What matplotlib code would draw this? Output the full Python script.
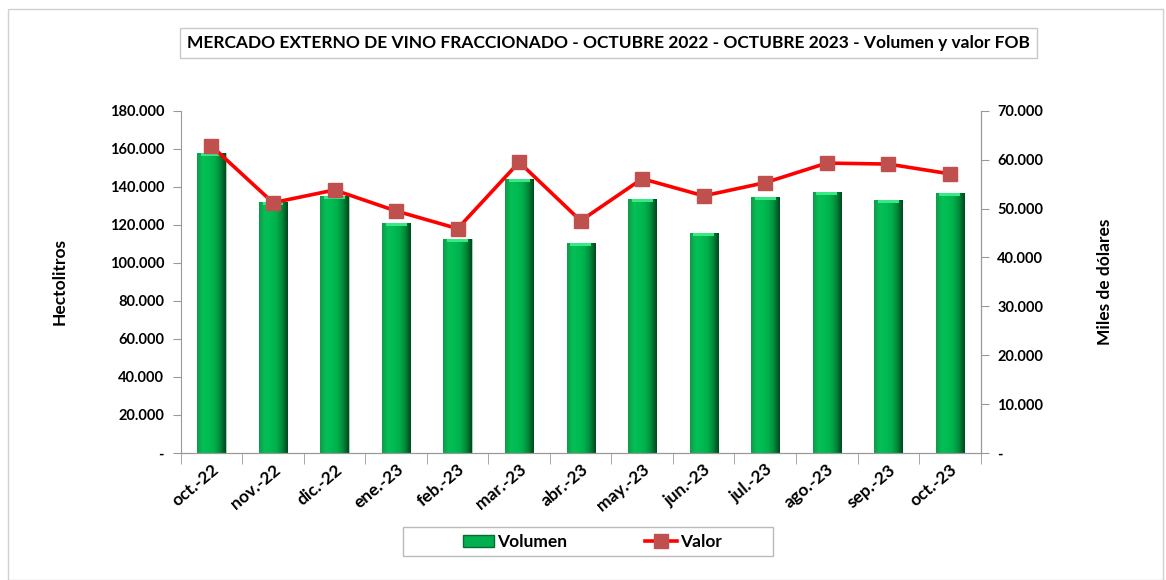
import numpy as np
import matplotlib
matplotlib.use("Agg")
import matplotlib.pyplot as plt
from matplotlib.colors import LinearSegmentedColormap
from matplotlib.patches import Rectangle, Patch
from matplotlib.lines import Line2D
from matplotlib.ticker import FuncFormatter, MultipleLocator

plt.rcParams['font.family'] = ['Lato', 'DejaVu Sans']
plt.rcParams['font.weight'] = 'bold'

meses = ["oct.-22", "nov.-22", "dic.-22", "ene.-23", "feb.-23", "mar.-23", "abr.-23",
         "may.-23", "jun.-23", "jul.-23", "ago.-23", "sep.-23", "oct.-23"]
volumen = [157800, 132100, 135300, 121000, 112600, 144200, 110500,
           133700, 115800, 134700, 137400, 133200, 136800]
valor = [62800, 51200, 53800, 49500, 45900, 59500, 47500,
         56100, 52600, 55300, 59300, 59100, 57100]


def miles(v, pos):
    if v == 0:
        return "-"
    return f"{int(v):,}".replace(",", ".")


fig = plt.figure(figsize=(11.66, 5.80), dpi=100)
W, H = fig.bbox.width, fig.bbox.height
fig.patches.append(Rectangle((0.007, 0.0), 0.99, 0.985, transform=fig.transFigure,
                             fill=False, edgecolor="#d0d0d0", linewidth=1))
ax = fig.add_axes([0.155, 0.219, 0.686, 0.590])
ax2 = ax.twinx()

x = np.arange(len(meses))
w = 0.46
bars = ax.bar(x, volumen, width=w, color="#00B050", edgecolor="#9fd9b0", linewidth=0.6, zorder=2)

# cylinder-like shading on the bars
cmap = LinearSegmentedColormap.from_list(
    "verde", ["#109a4a", "#05c056", "#00bb52", "#00b04c", "#008a3a", "#00481e"])
grad = np.linspace(0, 1, 64).reshape(1, -1)
for b in bars:
    im = ax.imshow(grad, cmap=cmap, aspect="auto", zorder=2.1,
                   extent=(b.get_x(), b.get_x() + b.get_width(), 0, b.get_height()))
    im.set_clip_path(b)
    ax.add_patch(Rectangle((b.get_x() + 0.06, b.get_height() - 1500), b.get_width() - 0.12, 1500,
                           color="#3be886", linewidth=0, zorder=2.2))

ax2.plot(x, valor, color="#FF0000", linewidth=2.6, marker="s", markersize=10,
         markerfacecolor="#C0504D", markeredgecolor="#C0504D", zorder=3)

ax.set_xlim(-0.5, len(meses) - 0.5)
ax.set_ylim(0, 180000)
ax2.set_ylim(0, 70000)
ax.yaxis.set_major_locator(MultipleLocator(20000))
ax2.yaxis.set_major_locator(MultipleLocator(10000))
ax.yaxis.set_major_formatter(FuncFormatter(miles))
ax2.yaxis.set_major_formatter(FuncFormatter(miles))

ax.set_xticks(x)
ax.set_xticklabels(meses, rotation=40, ha="right", rotation_mode="anchor", fontsize=12.5)
ax.tick_params(axis="x", length=0, pad=6)
ax.set_xticks(np.arange(-0.5, len(meses)), minor=True)
ax.tick_params(axis="x", which="minor", length=8, color="#999999")

for a in (ax, ax2):
    a.spines["top"].set_visible(False)
    for s in ("left", "right", "bottom"):
        a.spines[s].set_color("#999999")
    a.tick_params(axis="y", length=6, color="#999999", labelsize=10.5, pad=6)
ax2.spines["left"].set_visible(False)

ax.set_ylabel("Hectolitros", fontsize=12.5, fontweight="bold", labelpad=30)
ax2.set_ylabel("Miles de dólares", fontsize=12.5, fontweight="bold", labelpad=39, rotation=90)

fig.text(0.522, 0.926,
         "MERCADO EXTERNO DE VINO FRACCIONADO - OCTUBRE 2022 - OCTUBRE 2023 - Volumen y valor FOB",
         ha="center", va="center", fontsize=12.5, fontweight="bold",
         bbox=dict(boxstyle="square,pad=0.4", facecolor="white", edgecolor="#c8c8c8"))

# legend
handles = [Patch(facecolor="#00B050", edgecolor="#0a6a30"),
           Line2D([], [], color="#FF0000", linewidth=2.6, marker="s", markersize=10,
                  markerfacecolor="#C0504D", markeredgecolor="#C0504D")]
leg = fig.legend(handles, ["Volumen", "Valor"], loc="center", bbox_to_anchor=(0.508, 0.066),
                 ncol=2, frameon=False, fontsize=12.5, columnspacing=4.5,
                 handlelength=1.8, handletextpad=0.2, borderaxespad=0)
for t in leg.get_texts():
    t.set_fontweight("bold")
fig.patches.append(Rectangle((403 / W, 1 - 556 / H), 370 / W, 29 / H, transform=fig.transFigure,
                             fill=False, edgecolor="#bbbbbb", linewidth=1))

fig.savefig("out.png", dpi=100)
